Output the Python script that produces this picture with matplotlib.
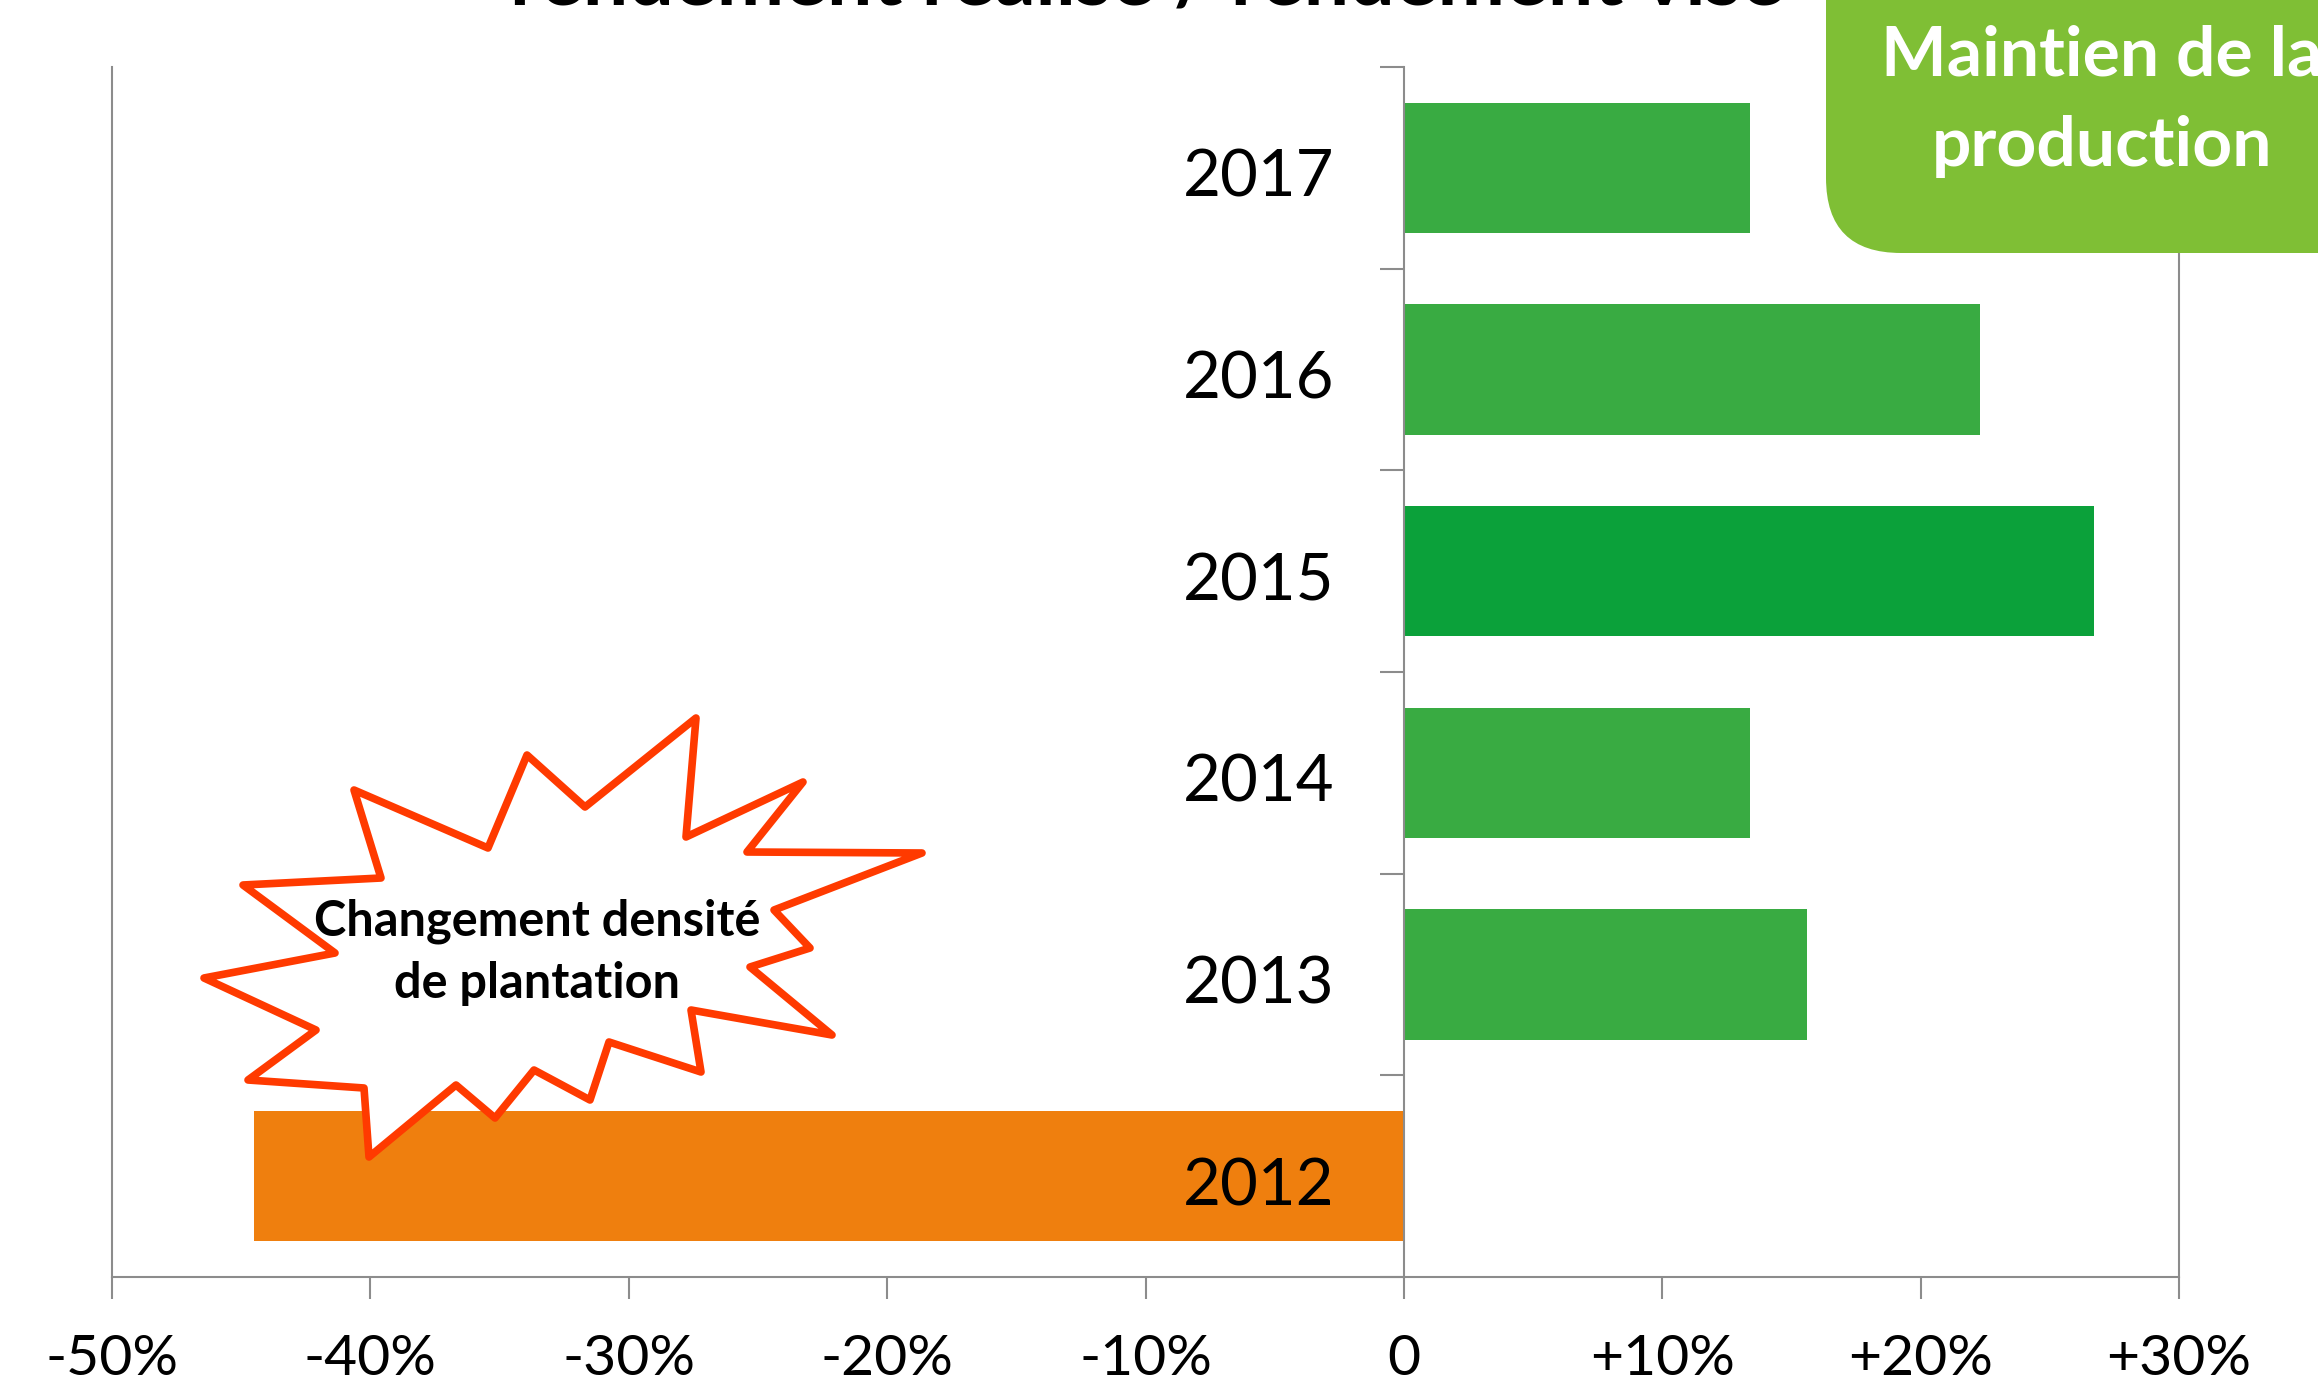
import matplotlib
matplotlib.use("Agg")
import matplotlib.pyplot as plt
from matplotlib.patches import Polygon, FancyBboxPatch
from matplotlib.transforms import IdentityTransform
import numpy as np

# data (écart rendement réalisé / visé, %)
years = ["2012", "2013", "2014", "2015", "2016", "2017"]
ecart = [-44.5, 15.6, 13.4, 26.7, 22.3, 13.4]
bar_colors = ["#EF7F0E", "#39AB42", "#39AB42", "#0BA13A", "#39AB42", "#39AB42"]
xticks = [-50, -40, -30, -20, -10, 0, 10, 20, 30]
xtick_labels = ["-50%", "-40%", "-30%", "-20%", "-10%", "0", "+10%", "+20%", "+30%"]
title = "rendement réalisé / rendement visé"
box_lines = ["Maintien de la", "production"]
star_lines = ["Changement densité", "de plantation"]

# star outline, in image pixels (x, y from top)
star_px = [
    (696, 718), (686, 837), (803, 782), (747, 852), (922, 853), (774, 910),
    (810, 948), (750, 967), (832, 1035), (691, 1010), (701, 1072), (609, 1042),
    (590, 1100), (534, 1070), (495, 1118), (456, 1085), (369, 1157), (364, 1088),
    (248, 1080), (316, 1030), (204, 978), (335, 953), (243, 885), (381, 878),
    (354, 790), (488, 848), (527, 755), (585, 807),
]

W, H = 2318, 1385
FONT = "Lato"
GRAY = "#8C8C8C"

plt.rcParams["font.family"] = [FONT, "DejaVu Sans"]

fig = plt.figure(figsize=(W / 100, H / 100), dpi=100)
ax = fig.add_axes([112 / W, 1 - 1277 / H, (2179 - 112) / W, (1277 - 67) / H])

ypos = np.arange(len(years))
ax.barh(ypos, ecart, height=0.645, color=bar_colors, zorder=2)

ax.set_xlim(-50, 30)
ax.set_ylim(-0.5, len(years) - 0.5)

# year labels just left of the zero line
for y, label in zip(ypos, years):
    ax.text(-2.7, y - 0.143, label, ha="right", va="baseline", fontsize=47, color="black")

# axes styling: y axis sits on zero, frame on left/right/bottom
ax.spines["left"].set_position(("data", 0))
ax.spines["top"].set_visible(False)
for s in ["left", "right", "bottom"]:
    ax.spines[s].set_color(GRAY)
    ax.spines[s].set_linewidth(1.5)
ax.axvline(-50, color=GRAY, lw=1.5, clip_on=False)

ax.set_yticks(np.arange(-0.5, len(years), 1.0))
ax.tick_params(axis="y", direction="out", length=17, width=1.5, color=GRAY, labelleft=False)
ax.set_xticks(xticks)
ax.set_xticklabels(xtick_labels)
ax.tick_params(axis="x", direction="out", length=16, width=1.5, color=GRAY,
               labelsize=41, pad=25)

# title, cut off at the top of the picture as in the original
fig.text(1147, H - 5, title, transform=IdentityTransform(), ha="center", va="baseline",
         fontsize=58, fontweight="bold")

# green box top right
box = FancyBboxPatch((1826, H - 253), 700, 400, boxstyle="round,pad=0,rounding_size=75",
                     transform=IdentityTransform(), facecolor="#7FBF35", edgecolor="none",
                     zorder=5)
fig.add_artist(box)
fig.text(2102, H - 76, box_lines[0], transform=IdentityTransform(), ha="center",
         va="baseline", fontsize=50, fontweight="bold", color="white", zorder=6)
fig.text(2102, H - 166, box_lines[1], transform=IdentityTransform(), ha="center",
         va="baseline", fontsize=50, fontweight="bold", color="white", zorder=6)

# explosion callout
star = Polygon([(x, H - y) for x, y in star_px], closed=True, transform=IdentityTransform(),
               facecolor="white", edgecolor="#FF3A00", lw=5.5, joinstyle="round", zorder=5)
fig.add_artist(star)
fig.text(537, H - 936, star_lines[0], transform=IdentityTransform(), ha="center",
         va="baseline", fontsize=35, fontweight="bold", zorder=6)
fig.text(537, H - 998, star_lines[1], transform=IdentityTransform(), ha="center",
         va="baseline", fontsize=35, fontweight="bold", zorder=6)

fig.savefig("out.png", dpi=100)
